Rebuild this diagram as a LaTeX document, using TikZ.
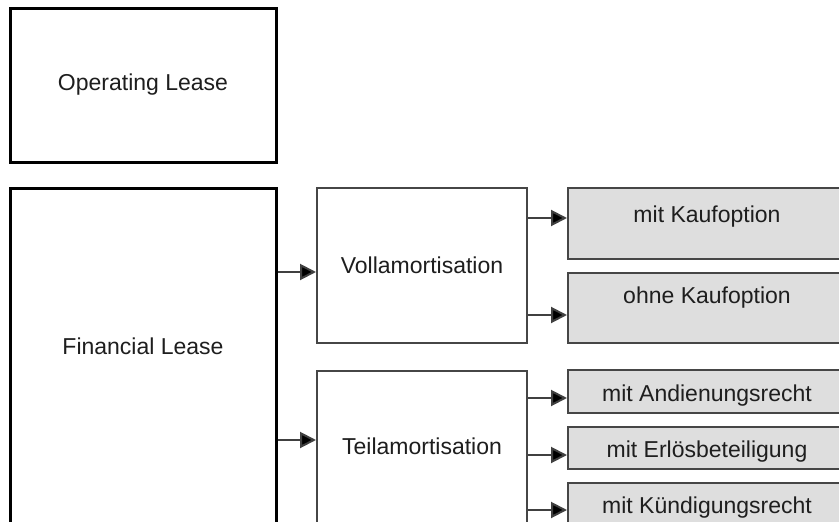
\documentclass[tikz,border=0pt]{standalone}
\usepackage{fontspec}
\setmainfont{Liberation Sans}
\usetikzlibrary{arrows.meta}
\definecolor{boxgray}{RGB}{222,222,222}
\definecolor{edgegray}{RGB}{70,70,70}
\definecolor{inkcol}{RGB}{30,30,30}
\begin{document}
\begin{tikzpicture}[x=1pt,y=-1pt,
  font=\fontsize{23}{27}\selectfont,
  outerbox/.style={draw=black, line width=3pt, inner sep=0pt, fill=white, text=inkcol},
  midbox/.style={draw=edgegray, line width=2pt, inner sep=0pt, fill=white, text=inkcol},
  optbox/.style={draw=edgegray, line width=2pt, inner sep=0pt, fill=boxgray, text=inkcol},
  arr/.style={draw=inkcol!85!white, line width=2pt, -{Triangle[length=16pt,width=16pt,fill=black]}}]
\useasboundingbox (0,0) rectangle (839,522);
\clip (0,0) rectangle (839,522);
\fill[white] (0,0) rectangle (839,522);

\node[outerbox, minimum width=266pt, minimum height=154pt] (op) at (143,85) {Operating Lease};
\node[outerbox, minimum width=266pt, minimum height=338pt, text height=166pt, text depth=172pt] (fin) at (143,357) {Financial Lease};

\node[midbox, minimum width=210pt, minimum height=155pt] (voll) at (422,265.5) {Vollamortisation};
\node[midbox, minimum width=210pt, minimum height=155pt, text height=83pt, text depth=72pt] (teil) at (422,448.5) {Teilamortisation};

\node[optbox, minimum width=278pt, minimum height=71pt, text height=34pt, text depth=37pt] (mk) at (707,223.5) {mit Kaufoption};
\node[optbox, minimum width=278pt, minimum height=70pt, text height=30pt, text depth=40pt] (ok) at (707,308) {ohne Kaufoption};
\node[optbox, minimum width=278pt, minimum height=43pt, text height=31pt, text depth=12pt] (and) at (707,391.5) {mit Andienungsrecht};
\node[optbox, minimum width=278pt, minimum height=42pt, text height=30pt, text depth=12pt] (erl) at (707,448) {mit Erlösbeteiligung};
\node[optbox, minimum width=278pt, minimum height=43pt, text height=30pt, text depth=13pt] (kue) at (707,504.5) {mit Kündigungsrecht};

\draw[arr] (fin.east |- 0,272) -- (voll.west |- 0,272);
\draw[arr] (fin.east |- 0,440) -- (teil.west |- 0,440);
\draw[arr] (voll.east |- 0,218) -- (mk.west |- 0,218);
\draw[arr] (voll.east |- 0,315) -- (ok.west |- 0,315);
\draw[arr] (teil.east |- 0,398) -- (and.west |- 0,398);
\draw[arr] (teil.east |- 0,455) -- (erl.west |- 0,455);
\draw[arr] (teil.east |- 0,510) -- (kue.west |- 0,510);
\end{tikzpicture}
\end{document}
